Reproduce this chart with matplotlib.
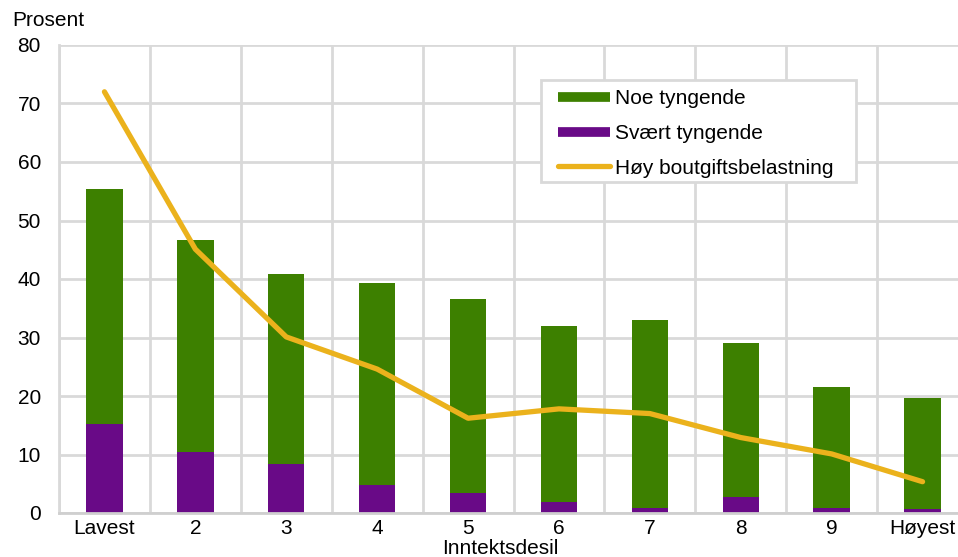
import numpy as np
import matplotlib.pyplot as plt
from matplotlib.lines import Line2D
from matplotlib.patches import Rectangle

plt.rcParams['font.family'] = ['Liberation Sans', 'DejaVu Sans']
plt.rcParams['font.size'] = 15

# data
categories = ["Lavest", "2", "3", "4", "5", "6", "7", "8", "9", "Høyest"]
svaert = [15.2, 10.4, 8.4, 4.8, 3.4, 1.9, 0.9, 2.7, 0.9, 0.7]
totals = [55.4, 46.7, 40.9, 39.3, 36.6, 32.0, 33.0, 29.1, 21.5, 19.7]
noe = [t - s for t, s in zip(totals, svaert)]
hoy = [72.0, 45.1, 30.1, 24.6, 16.2, 17.8, 17.0, 12.9, 10.1, 5.35]

green = '#3d8000'
purple = '#690a87'
yellow = '#ebb21c'
grid = '#d9d9d9'

fig = plt.figure(figsize=(9.58, 5.57), dpi=100)
ax = fig.add_axes([59/958, 44/557, 909/958, 468/557])

x = np.arange(len(categories))
ax.bar(x, svaert, width=0.4, color=purple, zorder=2)
ax.bar(x, noe, width=0.4, bottom=svaert, color=green, zorder=2)
ax.plot(x, hoy, color=yellow, lw=3.8, solid_capstyle='round', solid_joinstyle='round', zorder=3)

ax.set_xlim(-0.5, len(categories) - 0.5)
ax.set_ylim(0, 80)
ax.set_yticks(range(0, 81, 10))
ax.set_xticks(x)
ax.set_xticklabels(categories)
ax.set_xticks(np.arange(-0.5, len(categories), 1), minor=True)
ax.tick_params(which='both', length=0, pad=4)
ax.tick_params(axis='y', pad=13)
ax.grid(True, axis='y', color=grid, lw=2, zorder=0)
ax.grid(True, axis='x', which='minor', color=grid, lw=2, zorder=0)
for side in ['top', 'right']:
    ax.spines[side].set_visible(False)
ax.spines['left'].set_color(grid)
ax.spines['left'].set_linewidth(2)
ax.spines['bottom'].set_color('#cfcfcf')
ax.spines['bottom'].set_linewidth(2)

fig.text(500/958, 1 - 549/557, "Inntektsdesil", ha='center', va='center')
fig.text(12/958, 1 - 21/557, "Prosent", va='center', ha='left')

# legend box drawn separately so padding matches
ax.add_patch(Rectangle((0.5303, 0.7073), 0.3465, 0.2179, transform=ax.transAxes,
                       facecolor='white', edgecolor=grid, lw=2, zorder=4, clip_on=False))
handles = [
    Line2D([], [], color=green, lw=7, solid_capstyle='butt'),
    Line2D([], [], color=purple, lw=7, solid_capstyle='butt'),
    Line2D([], [], color=yellow, lw=3.8, solid_capstyle='round'),
]
labels = ["Noe tyngende", "Svært tyngende", "Høy boutgiftsbelastning"]
leg = ax.legend(handles, labels, loc='upper left', bbox_to_anchor=(0.549, 0.906),
                frameon=False, handlelength=2.5, handletextpad=0.25,
                labelspacing=0.76, borderpad=0, borderaxespad=0)
leg.set_zorder(5)

fig.savefig('out.png', dpi=100)
